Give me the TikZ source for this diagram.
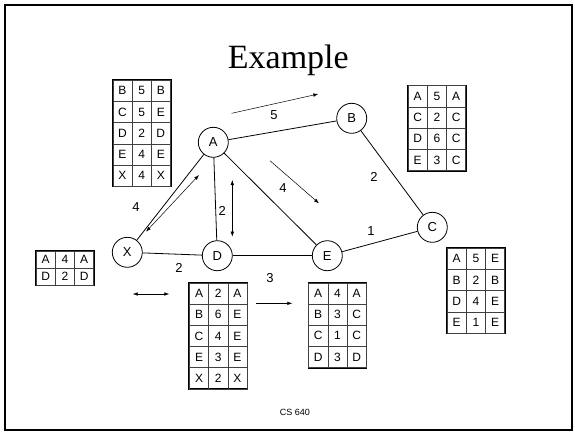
\documentclass[tikz,border=0pt]{standalone}
\usepackage{fontspec}
\setmainfont{Liberation Sans}
\newfontfamily\titlefont{Liberation Serif}
\usepackage{tikz}
\usetikzlibrary{matrix, arrows.meta}

\begin{document}
\begin{tikzpicture}[x=1pt, y=-1pt,
    vertex/.style={draw, circle, line width=0.8pt, minimum size=30pt, inner sep=0pt, font=\fontsize{13}{13}\selectfont},
    link/.style={line width=0.8pt},
    wt/.style={font=\fontsize{13}{13}\selectfont},
    msg/.style={line width=0.5pt, -{Latex[length=5pt, width=3.5pt]}},
    msgb/.style={line width=0.5pt, {Latex[length=5pt, width=3.5pt]}-{Latex[length=5pt, width=3.5pt]}},
    rtable/.style={matrix of nodes, anchor=north west, draw, line width=1.6pt, inner sep=0pt,
      column sep=-0.6pt, row sep=-0.6pt,
      nodes={draw=black!75, line width=0.6pt, minimum width=19.2pt, minimum height=21.2pt,
        inner sep=0pt, font=\fontsize{12}{12}\selectfont}}]
  \useasboundingbox (0,0) rectangle (575,432);
  \draw[line width=2pt] (4.5,4.8) rectangle (572.3,429.8);

  \node[font=\titlefont\fontsize{34}{34}\selectfont, anchor=base] (title) at (288.3,68.3) {Example};

  % network
  \node[vertex] (A) at (213.3,142.3) {A};
  \node[vertex] (B) at (351.7,118.3) {B};
  \node[vertex] (C) at (432.3,227.3) {C};
  \node[vertex] (X) at (127.3,252.3) {X};
  \node[vertex] (D) at (217.3,255.7) {D};
  \node[vertex] (E) at (327.3,255.7) {E};

  \draw[link] (A) -- (B);
  \draw[link] (B) -- (C);
  \draw[link] (C) -- (E);
  \draw[link] (E) -- (D);
  \draw[link] (D) -- (X);
  \draw[link] (X) -- (A);
  \draw[link] (A) -- (D);
  \draw[link] (A) -- (E);

  \node[wt] (wAB) at (274,115) {5};
  \node[wt] (wBC) at (374,177) {2};
  \node[wt] (wAE) at (283,188) {4};
  \node[wt] (wAD) at (222.3,211) {2};
  \node[wt] (wAX) at (136,207) {4};
  \node[wt] (wCE) at (371,231) {1};
  \node[wt] (wXD) at (179,268) {2};
  \node[wt] (wDE) at (270,278) {3};

  % exchanged vectors
  \coordinate (ab1) at (231.7,113.3);
  \coordinate (ab2) at (318.3,94);
  \coordinate (ae1) at (270,160.7);
  \coordinate (ae2) at (319,203.3);
  \coordinate (ad1) at (232.3,180);
  \coordinate (ad2) at (232.3,236.7);
  \coordinate (ax1) at (199,175);
  \coordinate (ax2) at (146,231.7);
  \coordinate (xd1) at (132.7,294);
  \coordinate (xd2) at (169.3,294);
  \coordinate (de1) at (256,303.3);
  \coordinate (de2) at (292.3,303.3);
  \draw[msg] (ab1) -- (ab2);
  \draw[msg] (ae1) -- (ae2);
  \draw[msgb] (ad1) -- (ad2);
  \draw[msgb] (ax1) -- (ax2);
  \draw[msgb] (xd1) -- (xd2);
  \draw[msg] (de1) -- (de2);

  % routing tables
  \matrix[rtable] (tabA) at (111.7,79) {
    B & 5 & B \\
    C & 5 & E \\
    D & 2 & D \\
    E & 4 & E \\
    X & 4 & X \\
  };
  \matrix[rtable] (tabB) at (407,84.5) {
    A & 5 & A \\
    C & 2 & C \\
    D & 6 & C \\
    E & 3 & C \\
  };
  \matrix[rtable, nodes={minimum height=17pt}] (tabX) at (35,250) {
    A & 4 & A \\
    D & 2 & D \\
  };
  \matrix[rtable] (tabD) at (188.3,281.7) {
    A & 2 & A \\
    B & 6 & E \\
    C & 4 & E \\
    E & 3 & E \\
    X & 2 & X \\
  };
  \matrix[rtable] (tabE) at (307.5,281.7) {
    A & 4 & A \\
    B & 3 & C \\
    C & 1 & C \\
    D & 3 & D \\
  };
  \matrix[rtable] (tabC) at (446,247) {
    A & 5 & E \\
    B & 2 & B \\
    D & 4 & E \\
    E & 1 & E \\
  };

  \node[font=\fontsize{9}{9}\selectfont] (foot) at (295,412.5) {CS 640};
\end{tikzpicture}
\end{document}
